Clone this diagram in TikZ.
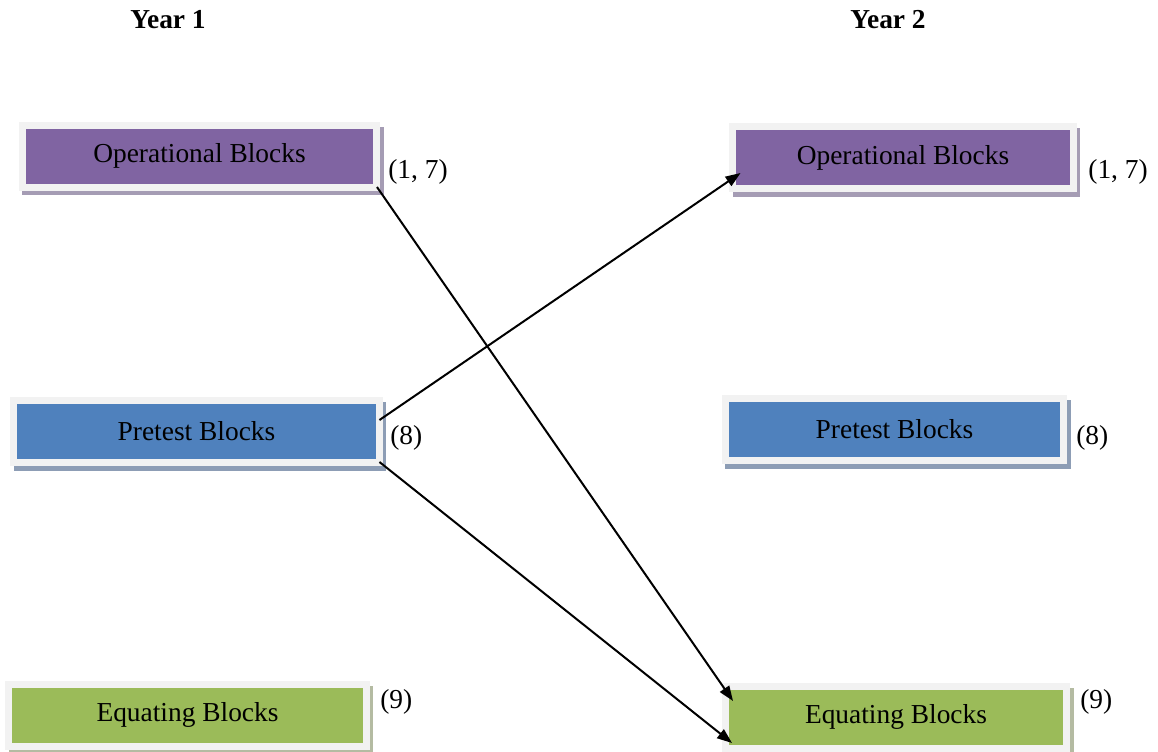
\documentclass[tikz,border=0pt]{standalone}
\usepackage{fontspec}
\setmainfont{Liberation Serif}
\usetikzlibrary{arrows.meta, backgrounds}

\definecolor{opfill}{HTML}{8064A2}
\definecolor{prefill}{HTML}{4F81BD}
\definecolor{eqfill}{HTML}{9BBB59}
\definecolor{framegray}{HTML}{F2F2F2}
\definecolor{opshade}{HTML}{A59CB4}
\definecolor{preshade}{HTML}{8D9DB5}
\definecolor{eqshade}{HTML}{B4BBA2}

\begin{document}
\begin{tikzpicture}[
        x=0.02cm, y=-0.02cm, % one unit per pixel, y going down
        block/.style={draw=framegray, line width=0.14cm, outer sep=0pt, inner sep=0pt,
          minimum height=1.24cm, font=\fontsize{15.6}{19}\selectfont},
        count/.style={anchor=west, inner sep=0pt, font=\fontsize{15.6}{19}\selectfont},
        year/.style={inner sep=0pt, font=\fontsize{15.6}{19}\selectfont\bfseries},
        link/.style={line width=0.04cm, -{Triangle[length=0.3cm, width=0.22cm]}}
      ]
      \useasboundingbox (0,0) rectangle (1158,751);

      % Headings
      \node[year] (y1) at (168,20) {Year 1};
      \node[year] (y2) at (888,20) {Year 2};

      % Nodes
      \node[block, fill=opfill, minimum width=7.10cm] (op1) at (199.5,156) {Operational Blocks};
      \node[block, fill=prefill, minimum width=7.32cm] (pre1) at (196.5,431) {Pretest Blocks};
      \node[block, fill=eqfill, minimum width=7.16cm] (eq1) at (187.5,715) {Equating Blocks};
      \node[block, fill=opfill, minimum width=6.82cm] (op2) at (903,157.5) {Operational Blocks};
      \node[block, fill=prefill, minimum width=6.78cm] (pre2) at (894.5,429) {Pretest Blocks};
      \node[block, fill=eqfill, minimum width=6.84cm] (eq2) at (896,717) {Equating Blocks};

      % Shadows
      \begin{scope}[on background layer]
        \foreach \b/\c in {op1/opshade, pre1/preshade, eq1/eqshade, op2/opshade, pre2/preshade, eq2/eqshade}
          \fill[\c] ([yshift=-0.17cm]\b.south west) rectangle ([xshift=0.14cm, yshift=-0.03cm]\b.north east);
      \end{scope}

      % Counts
      \node[count] (c1) at (388,172) {(1, 7)};
      \node[count] (c2) at (390,438) {(8)};
      \node[count] (c3) at (380,702) {(9)};
      \node[count] (c4) at (1088,172) {(1, 7)};
      \node[count] (c5) at (1076,438) {(8)};
      \node[count] (c6) at (1080,702) {(9)};

      % Arrows
      \draw[link] (op1.south east) -- ([xshift=0.16cm, yshift=-0.3cm]eq2.north west);
      \draw[link] ([yshift=0.22cm]pre1.east) -- ([xshift=0.16cm, yshift=0.31cm]op2.south west);
      \draw[link] (pre1.south east) -- ([xshift=0.14cm, yshift=0.1cm]eq2.south west);

    \end{tikzpicture}
\end{document}
